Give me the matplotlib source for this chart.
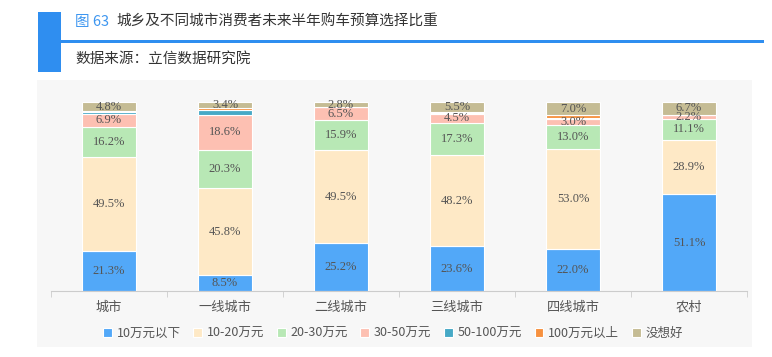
import matplotlib
matplotlib.use("Agg")
import matplotlib.pyplot as plt
from matplotlib.patches import Rectangle
import numpy as np

plt.rcParams['font.family'] = ['Noto Sans CJK SC', 'DejaVu Sans']

categories = ["城市", "一线城市", "二线城市", "三线城市", "四线城市", "农村"]
series_names = ["10万元以下", "10-20万元", "20-30万元", "30-50万元", "50-100万元", "100万元以上", "没想好"]
v_under10 = [21.3, 8.5, 25.2, 23.6, 22.0, 51.1]
v_10_20 = [49.5, 45.8, 49.5, 48.2, 53.0, 28.9]
v_20_30 = [16.2, 20.3, 15.9, 17.3, 13.0, 11.1]
v_30_50 = [6.9, 18.6, 6.5, 4.5, 3.0, 2.2]
v_50_100 = [1.0, 2.6, 0.1, 0.6, 0.5, 0.0]
v_100plus = [0.3, 0.8, 0.0, 0.3, 1.5, 0.0]
v_unsure = [4.8, 3.4, 2.8, 5.5, 7.0, 6.7]

series = [v_under10, v_10_20, v_20_30, v_30_50, v_50_100, v_100plus, v_unsure]
colors = ["#52a8f8", "#fee9c6", "#b8e8b5", "#fdc0b2", "#46a9c6", "#f7913f", "#c5bc94"]
labeled = [True, True, True, True, False, False, True]

fig = plt.figure(figsize=(7.72, 3.57), dpi=100)
W, H = 772, 357

def fx(px):
    return px / W

def fy(py):
    return 1 - py / H

# gray chart background
fig.patches.append(Rectangle((fx(37), fy(347)), fx(752) - fx(37), fy(80) - fy(347),
                             transform=fig.transFigure, facecolor="#f7f7f7", edgecolor="none", zorder=-2))
# title decoration
fig.patches.append(Rectangle((fx(38), fy(72)), fx(61) - fx(38), fy(12) - fy(72),
                             transform=fig.transFigure, facecolor="#2f8ef0", edgecolor="none", zorder=-1))
fig.patches.append(Rectangle((fx(61), fy(42.5)), fx(764) - fx(61), fy(39.5) - fy(42.5),
                             transform=fig.transFigure, facecolor="#2f8ef0", edgecolor="none", zorder=-1))
fig.text(fx(75), fy(22), "图 63", color="#3d96f0", fontsize=10.5, va="center", ha="left")
fig.text(fx(116), fy(22), "城乡及不同城市消费者未来半年购车预算选择比重", color="#333333",
         fontsize=10.5, va="center", ha="left")
fig.text(fx(75), fy(59), "数据来源：立信数据研究院", color="#333333", fontsize=10.5, va="center", ha="left")

ax = fig.add_axes([fx(51), fy(291), fx(747) - fx(51), fy(102) - fy(291)])
ax.set_zorder(2)
ax.set_facecolor("none")
x = np.arange(len(categories))
bottom = np.zeros(len(categories))
for name, vals, c, lab in zip(series_names, series, colors, labeled):
    vals = np.array(vals)
    ax.bar(x, vals, 0.465, bottom=bottom, color=c, edgecolor="white", linewidth=0.8,
           label=name, zorder=2)
    if lab:
        for xi, b, v in zip(x, bottom, vals):
            if v > 0:
                ax.text(xi, b + v / 2, f"{v:.1f}%", ha="center", va="center", fontsize=9,
                        color="#555555", family=["Liberation Serif", "Noto Sans CJK SC"], zorder=3)
    bottom += vals

ax.set_xlim(-0.5, len(categories) - 0.5)
ax.set_ylim(0, 100)
ax.set_yticks([])
for s in ["left", "top", "right"]:
    ax.spines[s].set_visible(False)
ax.spines["bottom"].set_color("#cccccc")
ax.set_xticks(x)
ax.set_xticklabels(categories, fontsize=9.5, color="#555555")
ax.tick_params(axis="x", which="major", length=0, pad=7)
ax.set_xticks(np.arange(-0.5, len(categories), 1), minor=True)
ax.tick_params(axis="x", which="minor", length=4, color="#cccccc")

handles, labels = ax.get_legend_handles_labels()
leg = fig.legend(handles, labels, loc="center", bbox_to_anchor=(fx(393), fy(333)), ncol=7,
                 frameon=False, fontsize=9, handlelength=0.7, handleheight=0.7,
                 handletextpad=0.4, columnspacing=1.0, labelcolor="#555555")

fig.savefig("out.png", dpi=100)
